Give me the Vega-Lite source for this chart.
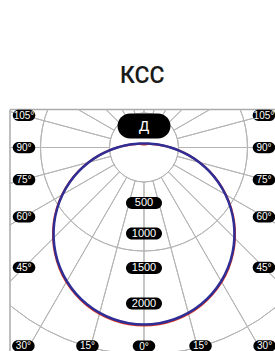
{
  "$schema": "https://vega.github.io/schema/vega-lite/v6.json",
  "width": 265.5,
  "height": 242,
  "autosize": {"type": "none"},
  "padding": {"left": 9.5, "top": 109, "right": 0, "bottom": 0},
  "background": "white",
  "title": {"text": "КСС", "fontSize": 23, "font": "Roboto", "fontWeight": 500, "color": "#1a1a1a", "anchor": "middle", "baseline": "alphabetic", "offset": 3},
  "config": {"view": {"stroke": null}},
  "datasets": {
    "circles": [{"r": 500}, {"r": 1000}, {"r": 1500}, {"r": 2000}, {"r": 2500}, {"r": 3000}, {"r": 3500}],
    "rays": [{"a": 0}, {"a": 15}, {"a": 30}, {"a": 45}, {"a": 60}, {"a": 75}, {"a": 90}, {"a": 105}, {"a": 120}, {"a": 135}, {"a": 150}, {"a": 165}, {"a": 180}, {"a": 195}, {"a": 210}, {"a": 225}, {"a": 240}, {"a": 255}, {"a": 270}, {"a": 285}, {"a": 300}, {"a": 315}, {"a": 330}, {"a": 345}],
    "red": [
      {"a": -180, "I": 44}, {"a": -170, "I": 45}, {"a": -160, "I": 48}, {"a": -150, "I": 54}, {"a": -140, "I": 64}, {"a": -130, "I": 79}, {"a": -120, "I": 102}, {"a": -110, "I": 143}, {"a": -105, "I": 175}, {"a": -100, "I": 222}, {"a": -95, "I": 291}, {"a": -90, "I": 386}, {"a": -85, "I": 511}, {"a": -80, "I": 664}, {"a": -75, "I": 832}, {"a": -70, "I": 1010}, {"a": -65, "I": 1191}, {"a": -60, "I": 1370}, {"a": -55, "I": 1543}, {"a": -50, "I": 1708}, {"a": -45, "I": 1863}, {"a": -40, "I": 2006}, {"a": -35, "I": 2136}, {"a": -30, "I": 2251}, {"a": -25, "I": 2349}, {"a": -20, "I": 2432}, {"a": -15, "I": 2496}, {"a": -10, "I": 2542}, {"a": -5, "I": 2570},
      {"a": 0, "I": 2580},
      {"a": 5, "I": 2570}, {"a": 10, "I": 2542}, {"a": 15, "I": 2496}, {"a": 20, "I": 2432}, {"a": 25, "I": 2349}, {"a": 30, "I": 2251}, {"a": 35, "I": 2136}, {"a": 40, "I": 2006}, {"a": 45, "I": 1863}, {"a": 50, "I": 1708}, {"a": 55, "I": 1543}, {"a": 60, "I": 1370}, {"a": 65, "I": 1191}, {"a": 70, "I": 1010}, {"a": 75, "I": 832}, {"a": 80, "I": 664}, {"a": 85, "I": 511}, {"a": 90, "I": 386}, {"a": 95, "I": 291}, {"a": 100, "I": 222}, {"a": 105, "I": 175}, {"a": 110, "I": 143}, {"a": 120, "I": 102}, {"a": 130, "I": 79}, {"a": 140, "I": 64}, {"a": 150, "I": 54}, {"a": 160, "I": 48}, {"a": 170, "I": 45}, {"a": 180, "I": 44}
    ],
    "blue": [
      {"a": -180, "I": 58}, {"a": -170, "I": 59}, {"a": -160, "I": 62}, {"a": -150, "I": 67}, {"a": -140, "I": 75}, {"a": -130, "I": 88}, {"a": -120, "I": 109}, {"a": -110, "I": 148}, {"a": -105, "I": 179}, {"a": -100, "I": 225}, {"a": -95, "I": 292}, {"a": -90, "I": 386}, {"a": -85, "I": 510}, {"a": -80, "I": 661}, {"a": -75, "I": 828}, {"a": -70, "I": 1005}, {"a": -65, "I": 1185}, {"a": -60, "I": 1363}, {"a": -55, "I": 1535}, {"a": -50, "I": 1699}, {"a": -45, "I": 1853}, {"a": -40, "I": 1995}, {"a": -35, "I": 2124}, {"a": -30, "I": 2238}, {"a": -25, "I": 2336}, {"a": -20, "I": 2418}, {"a": -15, "I": 2482}, {"a": -10, "I": 2528}, {"a": -5, "I": 2556},
      {"a": 0, "I": 2565},
      {"a": 5, "I": 2556}, {"a": 10, "I": 2528}, {"a": 15, "I": 2482}, {"a": 20, "I": 2418}, {"a": 25, "I": 2336}, {"a": 30, "I": 2238}, {"a": 35, "I": 2124}, {"a": 40, "I": 1995}, {"a": 45, "I": 1853}, {"a": 50, "I": 1699}, {"a": 55, "I": 1535}, {"a": 60, "I": 1363}, {"a": 65, "I": 1185}, {"a": 70, "I": 1005}, {"a": 75, "I": 828}, {"a": 80, "I": 661}, {"a": 85, "I": 510}, {"a": 90, "I": 386}, {"a": 95, "I": 292}, {"a": 100, "I": 225}, {"a": 105, "I": 179}, {"a": 110, "I": 148}, {"a": 120, "I": 109}, {"a": 130, "I": 88}, {"a": 140, "I": 75}, {"a": 150, "I": 67}, {"a": 160, "I": 62}, {"a": 170, "I": 59}, {"a": 180, "I": 58}
    ],
    "angleLabels": [
      {"a": -105, "d": 1800, "t": "105°"}, {"a": -90, "d": 1739, "t": "90°"}, {"a": -75, "d": 1800, "t": "75°"}, {"a": -60, "d": 2008, "t": "60°"}, {"a": -45, "d": 2459, "t": "45°"}, {"a": -31.3, "d": 3365, "t": "30°"}, {"a": -15.9, "d": 2991, "t": "15°"}, {"a": 0, "d": 2877, "t": "0°"},
      {"a": 15.9, "d": 2991, "t": "15°"}, {"a": 31.3, "d": 3365, "t": "30°"}, {"a": 45, "d": 2459, "t": "45°"}, {"a": 60, "d": 2008, "t": "60°"}, {"a": 75, "d": 1800, "t": "75°"}, {"a": 90, "d": 1739, "t": "90°"}, {"a": 105, "d": 1800, "t": "105°"}
    ],
    "valueLabels": [{"d": 804, "t": "500"}, {"d": 1246, "t": "1000"}, {"d": 1746, "t": "1500"}, {"d": 2261, "t": "2000"}],
    "typeLabel": [{"d": -312, "t": "Д"}]
  },
  "layer": [
    {
      "data": {"name": "rays"},
      "mark": {"type": "arc", "filled": false, "stroke": "#b4b4b4", "strokeWidth": 1, "clip": true},
      "encoding": {
        "x": {"datum": 0, "type": "quantitative", "scale": {"domain": [-1949.3, 1898.6], "nice": false, "zero": false}, "axis": {"orient": "top", "domain": true, "domainColor": "#aaaaaa", "domainWidth": 1.5, "ticks": false, "labels": false, "grid": false, "title": null}},
        "y": {"datum": 0, "type": "quantitative", "scale": {"domain": [-558, 2949.3], "reverse": true, "nice": false, "zero": false}, "axis": {"orient": "left", "domain": true, "domainColor": "#aaaaaa", "domainWidth": 1.5, "ticks": false, "labels": false, "grid": false, "title": null}},
        "theta": {"field": "a", "type": "quantitative", "stack": false, "scale": {"domain": [0, 360], "range": [0, 6.283185307179586]}},
        "theta2": {"field": "a"},
        "radius": {"datum": 4200, "type": "quantitative", "scale": {"type": "linear", "domain": [0, 3500], "range": [0, 241.5], "zero": true, "nice": false}},
        "radius2": {"datum": 500}
      }
    },
    {
      "data": {"name": "circles"},
      "mark": {"type": "arc", "filled": false, "stroke": "#b4b4b4", "strokeWidth": 1, "theta": 0, "theta2": 6.2832, "clip": true},
      "encoding": {
        "x": {"datum": 0, "type": "quantitative", "scale": {"domain": [-1949.3, 1898.6], "nice": false, "zero": false}, "axis": {"orient": "top", "domain": true, "domainColor": "#aaaaaa", "domainWidth": 1.5, "ticks": false, "labels": false, "grid": false, "title": null}},
        "y": {"datum": 0, "type": "quantitative", "scale": {"domain": [-558, 2949.3], "reverse": true, "nice": false, "zero": false}, "axis": {"orient": "left", "domain": true, "domainColor": "#aaaaaa", "domainWidth": 1.5, "ticks": false, "labels": false, "grid": false, "title": null}},
        "radius": {"field": "r", "type": "quantitative", "scale": {"type": "linear", "domain": [0, 3500], "range": [0, 241.5], "zero": true, "nice": false}}
      }
    },
    {
      "data": {"name": "red"},
      "transform": [{"calculate": "datum.I * sin(datum.a * PI / 180)", "as": "px"}, {"calculate": "datum.I * cos(datum.a * PI / 180)", "as": "py"}],
      "mark": {"type": "line", "color": "#e8381f", "strokeWidth": 2.2, "interpolate": "catmull-rom", "clip": true},
      "encoding": {
        "x": {"field": "px", "type": "quantitative", "scale": {"domain": [-1949.3, 1898.6], "nice": false, "zero": false}, "axis": {"orient": "top", "domain": true, "domainColor": "#aaaaaa", "domainWidth": 1.5, "ticks": false, "labels": false, "grid": false, "title": null}},
        "y": {"field": "py", "type": "quantitative", "scale": {"domain": [-558, 2949.3], "reverse": true, "nice": false, "zero": false}, "axis": {"orient": "left", "domain": true, "domainColor": "#aaaaaa", "domainWidth": 1.5, "ticks": false, "labels": false, "grid": false, "title": null}},
        "order": {"field": "a", "type": "quantitative"}
      }
    },
    {
      "data": {"name": "blue"},
      "transform": [{"calculate": "datum.I * sin(datum.a * PI / 180)", "as": "px"}, {"calculate": "datum.I * cos(datum.a * PI / 180)", "as": "py"}],
      "mark": {"type": "line", "color": "#2e2e96", "strokeWidth": 2.5, "interpolate": "catmull-rom", "clip": true},
      "encoding": {
        "x": {"field": "px", "type": "quantitative", "scale": {"domain": [-1949.3, 1898.6], "nice": false, "zero": false}, "axis": {"orient": "top", "domain": true, "domainColor": "#aaaaaa", "domainWidth": 1.5, "ticks": false, "labels": false, "grid": false, "title": null}},
        "y": {"field": "py", "type": "quantitative", "scale": {"domain": [-558, 2949.3], "reverse": true, "nice": false, "zero": false}, "axis": {"orient": "left", "domain": true, "domainColor": "#aaaaaa", "domainWidth": 1.5, "ticks": false, "labels": false, "grid": false, "title": null}},
        "order": {"field": "a", "type": "quantitative"}
      }
    },
    {
      "data": {"name": "angleLabels"},
      "transform": [{"calculate": "datum.d * sin(datum.a * PI / 180)", "as": "px"}, {"calculate": "datum.d * cos(datum.a * PI / 180)", "as": "py"}],
      "layer": [
        {"mark": {"type": "point", "shape": "M-0.5,-0.5H0.5A0.5,0.5,0,0,1,0.5,0.5H-0.5A0.5,0.5,0,0,1,-0.5,-0.5Z", "filled": true, "color": "#000000", "opacity": 1, "size": 506, "strokeWidth": 0}},
        {"mark": {"type": "text", "color": "#ffffff", "font": "Liberation Sans", "fontSize": 10, "align": "center", "baseline": "middle", "dy": 0.5}, "encoding": {"text": {"field": "t"}}}
      ],
      "encoding": {
        "x": {"field": "px", "type": "quantitative", "scale": {"domain": [-1949.3, 1898.6], "nice": false, "zero": false}, "axis": {"orient": "top", "domain": true, "domainColor": "#aaaaaa", "domainWidth": 1.5, "ticks": false, "labels": false, "grid": false, "title": null}},
        "y": {"field": "py", "type": "quantitative", "scale": {"domain": [-558, 2949.3], "reverse": true, "nice": false, "zero": false}, "axis": {"orient": "left", "domain": true, "domainColor": "#aaaaaa", "domainWidth": 1.5, "ticks": false, "labels": false, "grid": false, "title": null}}
      }
    },
    {
      "data": {"name": "valueLabels"},
      "layer": [
        {"mark": {"type": "point", "shape": "M-0.6667,-0.3333H0.6667A0.3333,0.3333,0,0,1,0.6667,0.3333H-0.6667A0.3333,0.3333,0,0,1,-0.6667,-0.3333Z", "filled": true, "color": "#000000", "opacity": 1, "size": 1296, "strokeWidth": 0}},
        {"mark": {"type": "text", "color": "#ffffff", "font": "Liberation Sans", "fontSize": 11, "align": "center", "baseline": "middle", "dy": 0.5}, "encoding": {"text": {"field": "t"}}}
      ],
      "encoding": {
        "x": {"datum": 0, "type": "quantitative", "scale": {"domain": [-1949.3, 1898.6], "nice": false, "zero": false}, "axis": {"orient": "top", "domain": true, "domainColor": "#aaaaaa", "domainWidth": 1.5, "ticks": false, "labels": false, "grid": false, "title": null}},
        "y": {"field": "d", "type": "quantitative", "scale": {"domain": [-558, 2949.3], "reverse": true, "nice": false, "zero": false}, "axis": {"orient": "left", "domain": true, "domainColor": "#aaaaaa", "domainWidth": 1.5, "ticks": false, "labels": false, "grid": false, "title": null}}
      }
    },
    {
      "data": {"name": "typeLabel"},
      "layer": [
        {"mark": {"type": "point", "shape": "M-0.5283,-0.4717H0.5283A0.4717,0.4717,0,0,1,0.5283,0.4717H-0.5283A0.4717,0.4717,0,0,1,-0.5283,-0.4717Z", "filled": true, "color": "#000000", "opacity": 1, "size": 2809, "strokeWidth": 0}},
        {"mark": {"type": "text", "color": "#ffffff", "font": "Liberation Sans", "fontSize": 15, "align": "center", "baseline": "middle"}, "encoding": {"text": {"field": "t"}}}
      ],
      "encoding": {
        "x": {"datum": 0, "type": "quantitative", "scale": {"domain": [-1949.3, 1898.6], "nice": false, "zero": false}, "axis": {"orient": "top", "domain": true, "domainColor": "#aaaaaa", "domainWidth": 1.5, "ticks": false, "labels": false, "grid": false, "title": null}},
        "y": {"field": "d", "type": "quantitative", "scale": {"domain": [-558, 2949.3], "reverse": true, "nice": false, "zero": false}, "axis": {"orient": "left", "domain": true, "domainColor": "#aaaaaa", "domainWidth": 1.5, "ticks": false, "labels": false, "grid": false, "title": null}}
      }
    }
  ]
}
